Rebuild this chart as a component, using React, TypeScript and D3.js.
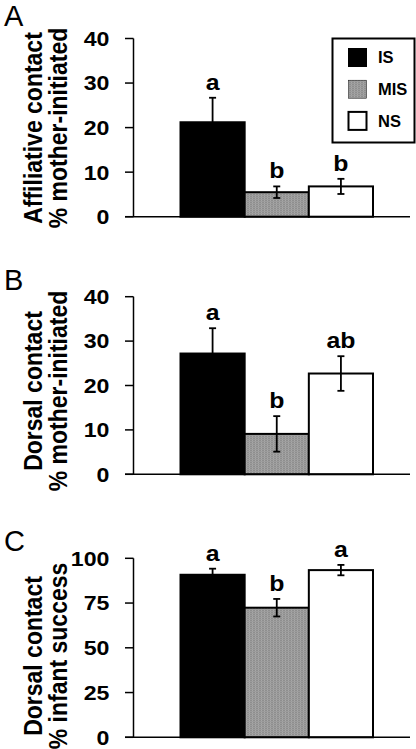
import React from "react";
import * as d3 from "d3";

const groups = ["IS", "MIS", "NS"];
const fills = ["#000000", "url(#misPattern)", "#ffffff"];

const meansA = [21.2, 5.5, 6.8];
const errA = [5.5, 1.3, 1.7];
const lettersA = ["a", "b", "b"];
const ticksA = [0, 10, 20, 30, 40];

const meansB = [27.2, 9.1, 22.7];
const errB = [5.7, 4.0, 3.9];
const lettersB = ["a", "b", "ab"];
const ticksB = [0, 10, 20, 30, 40];

const meansC = [90.8, 72.4, 93.4];
const errC = [3.4, 4.9, 2.9];
const lettersC = ["a", "b", "a"];
const ticksC = [0, 25, 50, 75, 100];

const FONT = "'Liberation Sans', Arial, Helvetica, sans-serif";
const SX = 1.13;

type PanelProps = {
  label: string;
  labelY: number;
  top: number;
  zero: number;
  max: number;
  ticks: number[];
  means: number[];
  errs: number[];
  letters: string[];
  title1: string;
  title2: string;
  titleY: number;
  legend?: boolean;
};

function Panel(p: PanelProps) {
  const axisX = 133.5;
  const y = d3.scaleLinear().domain([0, p.max]).range([p.zero, p.top]);
  const x = d3.scaleBand<string>().domain(groups).range([180.5, 373]).padding(0);
  const bw = x.bandwidth();
  return (
    <g>
      <text x={4} y={p.labelY} fontFamily={FONT} fontSize={29} fill="#000">
        {p.label}
      </text>
      <text
        transform={`translate(41.5,${p.titleY}) scale(${SX},1) rotate(-90)`}
        textAnchor="middle"
        fontFamily={FONT}
        fontWeight="bold"
        fontSize={23}
      >
        {p.title1}
      </text>
      <text
        transform={`translate(66.5,${p.titleY}) scale(${SX},1) rotate(-90)`}
        textAnchor="middle"
        fontFamily={FONT}
        fontWeight="bold"
        fontSize={23}
      >
        {p.title2}
      </text>
      {/* bars */}
      {groups.map((g, i) => (
        <rect
          key={g}
          x={x(g)!}
          y={y(p.means[i])}
          width={bw}
          height={y(0) - y(p.means[i])}
          fill={fills[i]}
          stroke="#000"
          strokeWidth={2}
        />
      ))}
      {/* error bars */}
      {groups.map((g, i) => {
        const cx = x(g)! + bw / 2;
        const hi = y(p.means[i] + p.errs[i]);
        const lo = y(p.means[i] - p.errs[i]);
        return (
          <g key={g} stroke="#000" strokeWidth={1.8}>
            <line x1={cx} x2={cx} y1={hi} y2={lo} />
            <line x1={cx - 3.5} x2={cx + 3.5} y1={hi} y2={hi} />
            <line x1={cx - 3.5} x2={cx + 3.5} y1={lo} y2={lo} />
          </g>
        );
      })}
      {/* letters */}
      {groups.map((g, i) => (
        <text
          key={g}
          transform={`translate(${x(g)! + bw / 2},${y(p.means[i] + p.errs[i]) - 8}) scale(${SX},1)`}
          textAnchor="middle"
          fontFamily={FONT}
          fontWeight="bold"
          fontSize={22}
        >
          {p.letters[i]}
        </text>
      ))}
      {/* axes */}
      <line x1={axisX} x2={axisX} y1={y(p.max)} y2={y(0)} stroke="#000" strokeWidth={1.5} />
      <line x1={125} x2={410} y1={y(0)} y2={y(0)} stroke="#000" strokeWidth={1.5} />
      {p.ticks.map((t) => (
        <g key={t}>
          <line x1={125} x2={axisX} y1={y(t)} y2={y(t)} stroke="#000" strokeWidth={1.5} />
          <text
            transform={`translate(109.5,${y(t)}) scale(${SX},1)`}
            dy="0.36em"
            textAnchor="end"
            fontFamily={FONT}
            fontWeight="bold"
            fontSize={20.5}
          >
            {t}
          </text>
        </g>
      ))}
      {p.legend && (
        <g>
          <rect x={332.5} y={38.5} width={82} height={104} fill="#fff" stroke="#000" strokeWidth={2} />
          {groups.map((g, i) => (
            <g key={g}>
              <rect
                x={348.5}
                y={48.5 + i * 31.7}
                width={18}
                height={18}
                fill={fills[i]}
                stroke="#000"
                strokeWidth={i === 2 ? 2 : i === 1 ? 0.5 : 1}
              />
              <text
                x={378}
                y={57.5 + i * 31.7}
                dy="0.36em"
                fontFamily={FONT}
                fontWeight="bold"
                fontSize={16.5}
              >
                {g}
              </text>
            </g>
          ))}
        </g>
      )}
    </g>
  );
}

export default function App() {
  return (
    <svg
      width={416}
      height={749}
      style={{ position: "absolute", left: 0, top: 0, background: "#fff" }}
    >
      <defs>
        <pattern id="misPattern" width={3} height={2} patternUnits="userSpaceOnUse">
          <rect width={3} height={2} fill="#9c9c9c" />
          <rect width={3} height={1} fill="#8e8e8e" />
          <rect width={1} height={1} fill="#a8a8a8" />
        </pattern>
      </defs>
      <rect width={416} height={749} fill="#fff" />
      <Panel
        label="A"
        labelY={26}
        top={38.5}
        zero={216.7}
        max={40}
        ticks={ticksA}
        means={meansA}
        errs={errA}
        letters={lettersA}
        title1="Affiliative contact"
        title2="% mother-initiated"
        titleY={128}
        legend
      />
      <Panel
        label="B"
        labelY={290}
        top={296.7}
        zero={474.3}
        max={40}
        ticks={ticksB}
        means={meansB}
        errs={errB}
        letters={lettersB}
        title1="Dorsal contact"
        title2="% mother-initiated"
        titleY={391}
      />
      <Panel
        label="C"
        labelY={551}
        top={558.3}
        zero={737.3}
        max={100}
        ticks={ticksC}
        means={meansC}
        errs={errC}
        letters={lettersC}
        title1="Dorsal contact"
        title2="% infant success"
        titleY={656}
      />
    </svg>
  );
}
